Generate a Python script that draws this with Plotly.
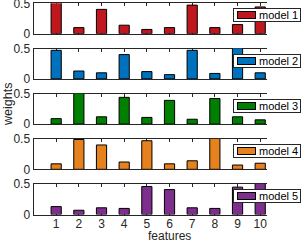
import plotly.graph_objects as go

features = [1, 2, 3, 4, 5, 6, 7, 8, 9, 10]
model_names = ["model 1", "model 2", "model 3", "model 4", "model 5"]
model1 = [0.55, 0.10, 0.40, 0.14, 0.07, 0.10, 0.47, 0.10, 0.15, 0.44]
model2 = [0.47, 0.13, 0.10, 0.40, 0.12, 0.07, 0.47, 0.09, 0.52, 0.10]
model3 = [0.09, 0.52, 0.12, 0.44, 0.11, 0.39, 0.08, 0.42, 0.12, 0.07]
model4 = [0.09, 0.49, 0.40, 0.12, 0.47, 0.09, 0.14, 0.52, 0.07, 0.10]
model5 = [0.13, 0.07, 0.11, 0.10, 0.46, 0.41, 0.11, 0.10, 0.45, 0.52]
ytick_vals = [0, 0.5]
ytick_text = ["0", "0.5"]
xlabel = "features"
ylabel = "weights"

series = [model1, model2, model3, model4, model5]
colors = ["#C0161D", "#0072BD", "#008000", "#E6821E", "#7E2F8E"]

W, H = 306, 242
x_left, x_right = 33.5, 267.0
top0, pitch, ph = 3.3, 45.2, 30.4
axcol = "#262626"
font_family = "Liberation Sans"

fig = go.Figure()
layout = dict(
    width=W, height=H,
    margin=dict(l=0, r=0, t=0, b=0, autoexpand=False),
    paper_bgcolor="white", plot_bgcolor="white",
    showlegend=False,
    font=dict(family=font_family, size=12, color=axcol),
)
annotations = []

for i, (vals, name, col) in enumerate(zip(series, model_names, colors)):
    n = i + 1
    xa = "x" if n == 1 else f"x{n}"
    ya = "y" if n == 1 else f"y{n}"
    fig.add_trace(go.Bar(
        x=features, y=vals, name=name, width=0.45,
        marker=dict(color=col, line=dict(color="black", width=1)),
        xaxis=xa, yaxis=ya,
    ))
    top = top0 + pitch * i
    bot = top + ph
    xkey = "xaxis" if n == 1 else f"xaxis{n}"
    ykey = "yaxis" if n == 1 else f"yaxis{n}"
    layout[xkey] = dict(
        domain=[x_left / W, x_right / W], anchor=ya,
        range=[0, 10.3], tickvals=features,
        ticktext=[str(f) for f in features],
        showticklabels=(n == 5), ticks="inside", ticklen=3,
        tickcolor=axcol, showline=True, linecolor=axcol, linewidth=1,
        mirror="ticks", showgrid=False, zeroline=False, automargin=False,
        layer="below traces", fixedrange=True, ticklabelstandoff=-2,
        ticklabeloverflow="allow",
        tickfont=dict(family=font_family, size=12, color=axcol),
    )
    layout[ykey] = dict(
        domain=[1 - bot / H, 1 - top / H], anchor=xa,
        range=[0, 0.5], tickvals=ytick_vals, ticktext=ytick_text,
        ticks="inside", ticklen=3, tickcolor=axcol, automargin=False,
        showline=True, linecolor=axcol, linewidth=1, mirror=False,
        showgrid=False, zeroline=False, layer="below traces",
        fixedrange=True, ticklabeloverflow="allow",
        tickfont=dict(family=font_family, size=12, color=axcol),
    )
    # legend box (decoration) built from annotations
    cy = 1 - (15.5 + pitch * i) / H
    annotations.append(dict(
        text=" ", x=233 / W, y=cy, xref="paper", yref="paper",
        xanchor="left", yanchor="middle", showarrow=False,
        width=66, height=12, borderpad=0, borderwidth=1,
        bordercolor=axcol, bgcolor="white", font=dict(size=1)))
    annotations.append(dict(
        text=" ", x=237 / W, y=cy, xref="paper", yref="paper",
        xanchor="left", yanchor="middle", showarrow=False,
        width=17, height=6, borderpad=0, borderwidth=1,
        bordercolor="black", bgcolor=col, font=dict(size=1)))
    annotations.append(dict(
        text=name, x=257 / W, y=cy, xref="paper", yref="paper",
        xanchor="left", yanchor="middle", showarrow=False,
        font=dict(family=font_family, size=11, color="black")))

annotations.append(dict(
    text=ylabel, x=8 / W, y=1 - 105 / H, xref="paper", yref="paper",
    textangle=-90, showarrow=False, xanchor="center", yanchor="middle",
    font=dict(family=font_family, size=12.5, color=axcol)))
annotations.append(dict(
    text=xlabel, x=169 / W, y=1 - 235.5 / H, xref="paper", yref="paper",
    showarrow=False, xanchor="center", yanchor="middle",
    font=dict(family=font_family, size=12, color=axcol)))
layout["annotations"] = annotations

fig.update_layout(**layout)
fig.write_html(
    "out.html",
    config=dict(displayModeBar=False),
    post_script="document.body.style.margin='0';document.body.style.padding='0';",
)
